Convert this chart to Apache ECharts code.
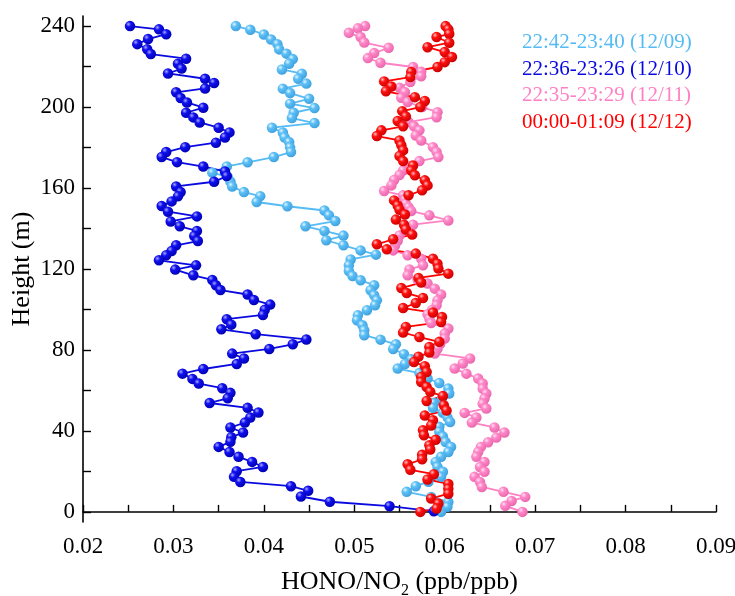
<!DOCTYPE html>
<html>
<head>
<meta charset="utf-8">
<script src="https://cdn.jsdelivr.net/npm/echarts@6/dist/echarts.min.js"></script>
<style>
html,body{margin:0;padding:0;background:#fff;}
#chart{width:735px;height:596px;}
</style>
</head>
<body>
<div id="chart"></div>
<script>
// Series names (legend)
const seriesNames = ['22:42-23:40 (12/09)', '22:36-23:26 (12/10)', '22:35-23:29 (12/11)', '00:00-01:09 (12/12)'];

// 12/09 (light blue)
const h1209 = [240,238.2,235.9,233.4,231.1,228.5,226.4,223.7,221.4,218.6,216.5,214,211.6,209.1,206.9,204.1,201.7,199.5,197.2,194.6,192.1,189.8,187.4,185,182.7,180.1,177.8,175.3,172.7,170.7,167.6,165.5,163.2,160.8,158,156,153.1,151,148.9,146.5,143.7,141.1,138.8,136.5,134.2,131.7,129.2,127.1,124.7,121.8,119,116.5,114.4,112,109.5,107,104.5,102.1,99.6,97.1,94.7,92.2,89.7,87.3,85.1,82.8,80.5,77.9,75.4,73.1,70.8,68.6,65.9,63.7,60.9,58.5,56.2,53.8,51.4,49,46.7,44.4,42,39.6,37.2,34.5,32.1,29.6,27.2,24.7,22.2,19.8,17.3,14.9,12.7,9.9,7.4,4.9,2.5,0];
const r1209 = [0.0369,0.0385,0.0400,0.0408,0.0415,0.0417,0.0425,0.0432,0.0428,0.0420,0.0442,0.0438,0.0447,0.0421,0.0429,0.0450,0.0429,0.0456,0.0433,0.0431,0.0456,0.0409,0.0421,0.0423,0.0428,0.0429,0.0430,0.0411,0.0382,0.0359,0.0343,0.0360,0.0363,0.0365,0.0378,0.0396,0.0392,0.0426,0.0467,0.0472,0.0479,0.0446,0.0467,0.0488,0.0469,0.0488,0.0507,0.0524,0.0496,0.0494,0.0494,0.0498,0.0507,0.0522,0.0518,0.0522,0.0525,0.0523,0.0514,0.0504,0.0503,0.0509,0.0511,0.0511,0.0529,0.0546,0.0543,0.0555,0.0563,0.0556,0.0548,0.0572,0.0581,0.0594,0.0604,0.0605,0.0597,0.0588,0.0587,0.0598,0.0603,0.0606,0.0594,0.0594,0.0598,0.0601,0.0607,0.0604,0.0596,0.0590,0.0592,0.0598,0.0596,0.0582,0.0568,0.0558,0.0585,0.0604,0.0603,0.0596];

// 12/10 (dark blue)
const h1210 = [240,238.4,236,233.6,231.1,228.6,226.2,223.9,221.4,219,216.6,214,211.9,209.2,207.3,204.5,202.3,199.7,197.2,194.9,192.4,189.8,187.5,185,182.4,180.2,177.8,175.3,172.8,170.6,168.2,165.9,163.1,160.8,158,155.9,153.4,151.1,148.3,146,143.5,141.1,138.8,136.3,133.8,131.7,128.9,126.8,124.3,121.8,119.7,116.9,114.6,112,109.6,107.4,104.7,102.4,99.9,97.3,95.2,92.5,90.2,87.8,85.2,82.8,80.5,78.2,75.8,73.1,70.6,68.3,65.7,63.4,61.1,58.8,56.1,53.8,51.4,49.1,46.6,44.1,41.7,39.2,36.9,34.6,32.1,29.6,27.2,24.7,22.2,20.1,17.3,14.8,12.7,10.4,7.6,5,2.8,0.3];
const r1210 = [0.0252,0.0284,0.0292,0.0272,0.0260,0.0271,0.0275,0.0314,0.0305,0.0309,0.0294,0.0335,0.0345,0.0335,0.0303,0.0308,0.0315,0.0333,0.0314,0.0322,0.0329,0.0350,0.0362,0.0357,0.0347,0.0313,0.0292,0.0287,0.0304,0.0333,0.0357,0.0359,0.0345,0.0303,0.0308,0.0305,0.0298,0.0287,0.0294,0.0326,0.0297,0.0307,0.0326,0.0323,0.0327,0.0303,0.0298,0.0292,0.0284,0.0325,0.0302,0.0322,0.0343,0.0347,0.0352,0.0382,0.0389,0.0407,0.0401,0.0399,0.0359,0.0364,0.0353,0.0391,0.0447,0.0432,0.0406,0.0365,0.0378,0.0370,0.0333,0.0310,0.0321,0.0328,0.0354,0.0363,0.0360,0.0340,0.0382,0.0394,0.0385,0.0379,0.0363,0.0377,0.0364,0.0363,0.0350,0.0362,0.0372,0.0387,0.0399,0.0370,0.0367,0.0374,0.0430,0.0449,0.0441,0.0473,0.0539,0.0588];

// 12/11 (pink)
const h1211 = [240,238.9,236.7,234.6,231.9,229.3,226.7,224.2,221.9,219.8,217.4,215.2,212.4,209.6,207.4,204.6,202.5,200,197.5,195,192.6,190.5,188.5,186,183.5,180.2,177.8,175.3,173.3,171,168.7,166.4,164,161.3,158.5,156.4,154.3,152.3,150.5,148.6,146.5,144,141.9,139.3,136.6,134,131.6,129.2,126.8,125.1,121.8,119.8,116.9,114.8,112.8,110.3,107.4,104.5,102.1,99.8,97.6,95.4,93.3,90.6,88.1,85.6,83,80.6,78.2,75.8,73.3,70.8,68.3,65.9,63.4,60.9,58.5,56,53.5,51.1,48.9,46.6,44.1,41.7,39.2,36.7,34.4,32.1,29.6,27.2,24.7,22.2,19.8,17.3,14.8,12.3,9.9,7.4,5.4,3,0];
const r1211 = [0.0512,0.0504,0.0494,0.0507,0.0511,0.0538,0.0522,0.0515,0.0529,0.0565,0.0574,0.0574,0.0562,0.0550,0.0556,0.0552,0.0559,0.0575,0.0592,0.0591,0.0560,0.0566,0.0572,0.0568,0.0574,0.0587,0.0591,0.0593,0.0572,0.0563,0.0554,0.0550,0.0544,0.0541,0.0533,0.0554,0.0556,0.0557,0.0560,0.0563,0.0583,0.0604,0.0565,0.0557,0.0550,0.0548,0.0545,0.0543,0.0559,0.0574,0.0576,0.0561,0.0559,0.0570,0.0581,0.0589,0.0596,0.0592,0.0591,0.0586,0.0581,0.0583,0.0585,0.0604,0.0600,0.0600,0.0595,0.0592,0.0589,0.0628,0.0620,0.0611,0.0624,0.0637,0.0642,0.0642,0.0646,0.0644,0.0642,0.0646,0.0622,0.0635,0.0630,0.0655,0.0666,0.0657,0.0648,0.0640,0.0637,0.0635,0.0644,0.0639,0.0644,0.0633,0.0639,0.0641,0.0665,0.0689,0.0674,0.0667,0.0686];

// 12/12 (red)
const h1212 = [240,238.4,236.2,234.6,231.8,229.6,227.2,224.7,222.2,219.8,217.3,214.8,212.7,210.2,207.8,204.9,203,200,198,195.4,193.1,190.5,188.5,185.7,183.5,181.1,178.6,175.8,173.3,171.1,168.7,166.3,163.8,161.3,158.9,156.4,153.9,151.4,149.3,146.9,144.4,141.9,139.5,137,134.7,132.2,129.7,127.6,125.1,122.6,120.2,117.7,115.6,113.3,110.6,108.1,105.7,103.2,100.7,98.5,96.3,93.8,91.4,88.6,86.4,84,81.5,78.7,76.7,74,72,69.1,66.7,64.2,61.7,59.3,57.2,54.8,52.7,50.1,47.6,45.3,42.7,40.3,37.9,35.6,32.9,30.8,28.2,26,23.5,20.8,18.6,16,13.8,11.4,9,6.6,4.1,1.7,0];
const r1212 = [0.0601,0.0604,0.0605,0.0591,0.0605,0.0581,0.0600,0.0608,0.0600,0.0592,0.0563,0.0562,0.0533,0.0541,0.0535,0.0567,0.0578,0.0573,0.0553,0.0557,0.0548,0.0554,0.0530,0.0525,0.0550,0.0552,0.0554,0.0550,0.0554,0.0565,0.0563,0.0567,0.0578,0.0581,0.0575,0.0560,0.0544,0.0548,0.0550,0.0556,0.0546,0.0555,0.0557,0.0564,0.0543,0.0525,0.0536,0.0568,0.0587,0.0592,0.0593,0.0604,0.0571,0.0574,0.0552,0.0558,0.0576,0.0568,0.0554,0.0587,0.0597,0.0596,0.0557,0.0554,0.0572,0.0594,0.0583,0.0583,0.0571,0.0566,0.0578,0.0580,0.0574,0.0574,0.0580,0.0584,0.0598,0.0580,0.0599,0.0602,0.0578,0.0587,0.0585,0.0576,0.0577,0.0590,0.0583,0.0584,0.0575,0.0575,0.0559,0.0562,0.0588,0.0581,0.0604,0.0604,0.0604,0.0585,0.0593,0.0591,0.0573];

// Axis ticks
const yTickValues = [0,20,40,60,80,100,120,140,160,180,200,220,240];
const yLabelValues = [0,40,80,120,160,200,240];

const FONT = '"Liberation Serif", "Times New Roman", serif';

function sphere(hi, mid, edge){
  return {type:'radial', x:0.35, y:0.32, r:0.72, colorStops:[
    {offset:0, color:hi},{offset:0.35, color:mid},{offset:1, color:edge}]};
}
const styles = [
  {line:'#55bbf5', item: sphere('#e6f6ff','#5cc0f7','#3f9fdc')},
  {line:'#0a0ae0', item: sphere('#a8a8ff','#1010f0','#0000b0')},
  {line:'#ff80c4', item: sphere('#ffe0f2','#ff88c8','#e866ac')},
  {line:'#ff0000', item: sphere('#ffc0c0','#ff1010','#c80000')}
];
const hs = [h1209, h1210, h1211, h1212];
const rs = [r1209, r1210, r1211, r1212];
const order = [0, 2, 1, 3]; // draw order

const series = order.map(i => ({
  name: seriesNames[i],
  type: 'line',
  data: hs[i].map((h, k) => [rs[i][k], h]),
  symbol: 'circle',
  symbolSize: 10.5,
  showSymbol: true,
  lineStyle: {color: styles[i].line, width: 1.8},
  itemStyle: {color: styles[i].item, borderWidth: 0},
  emphasis: {disabled: true},
  animation: false
}));

const chart = echarts.init(document.getElementById('chart'), null, {renderer: 'canvas'});
chart.setOption({
  backgroundColor: '#fff',
  animation: false,
  grid: {left: 83, right: 19, top: 16, bottom: 74, containLabel: false, outerBoundsMode: 'none'},
  legend: {
    orient: 'vertical',
    left: 512, top: 27,
    icon: 'rect', itemWidth: 0, itemHeight: 21, itemGap: 5.5,
    selectedMode: false,
    textStyle: {fontFamily: FONT, fontSize: 21},
    data: seriesNames.map((n, i) => ({name: n, textStyle: {color: styles[i].line}, itemStyle: {opacity: 0}}))
  },
  xAxis: {
    type: 'value',
    min: 0.02, max: 0.09, interval: 0.01,
    name: 'HONO/NO{sub|2} (ppb/ppb)',
    nameLocation: 'middle', nameGap: 43,
    nameTextStyle: {fontFamily: FONT, fontSize: 26, color: '#000',
      rich: {sub: {fontFamily: FONT, fontSize: 16, color: '#000', padding: [18, 0, 0, 0]}}},
    axisLine: {show: true, lineStyle: {color: '#000', width: 1.6}},
    axisTick: {show: true, inside: true, length: 7, lineStyle: {color: '#000', width: 1.4}},
    minorTick: {show: true, splitNumber: 2, length: 7, lineStyle: {color: '#000', width: 1.4}},
    axisLabel: {fontFamily: FONT, fontSize: 23, color: '#000', margin: 13,
      formatter: v => v.toFixed(2)},
    splitLine: {show: false}
  },
  yAxis: {
    type: 'value',
    min: -5, max: 245,
    name: 'Height (m)',
    nameLocation: 'middle', nameGap: 48, nameRotate: 90, nameMoveOverlap: false,
    nameTextStyle: {fontFamily: FONT, fontSize: 26, color: '#000'},
    axisLine: {show: true, onZero: false, lineStyle: {color: '#000', width: 1.6}},
    axisTick: {show: true, inside: true, length: 8, customValues: yTickValues, lineStyle: {color: '#000', width: 1.4}},
    axisLabel: {fontFamily: FONT, fontSize: 23, color: '#000', margin: 8, customValues: yLabelValues},
    splitLine: {show: false}
  },
  series: series
});
</script>
</body>
</html>
